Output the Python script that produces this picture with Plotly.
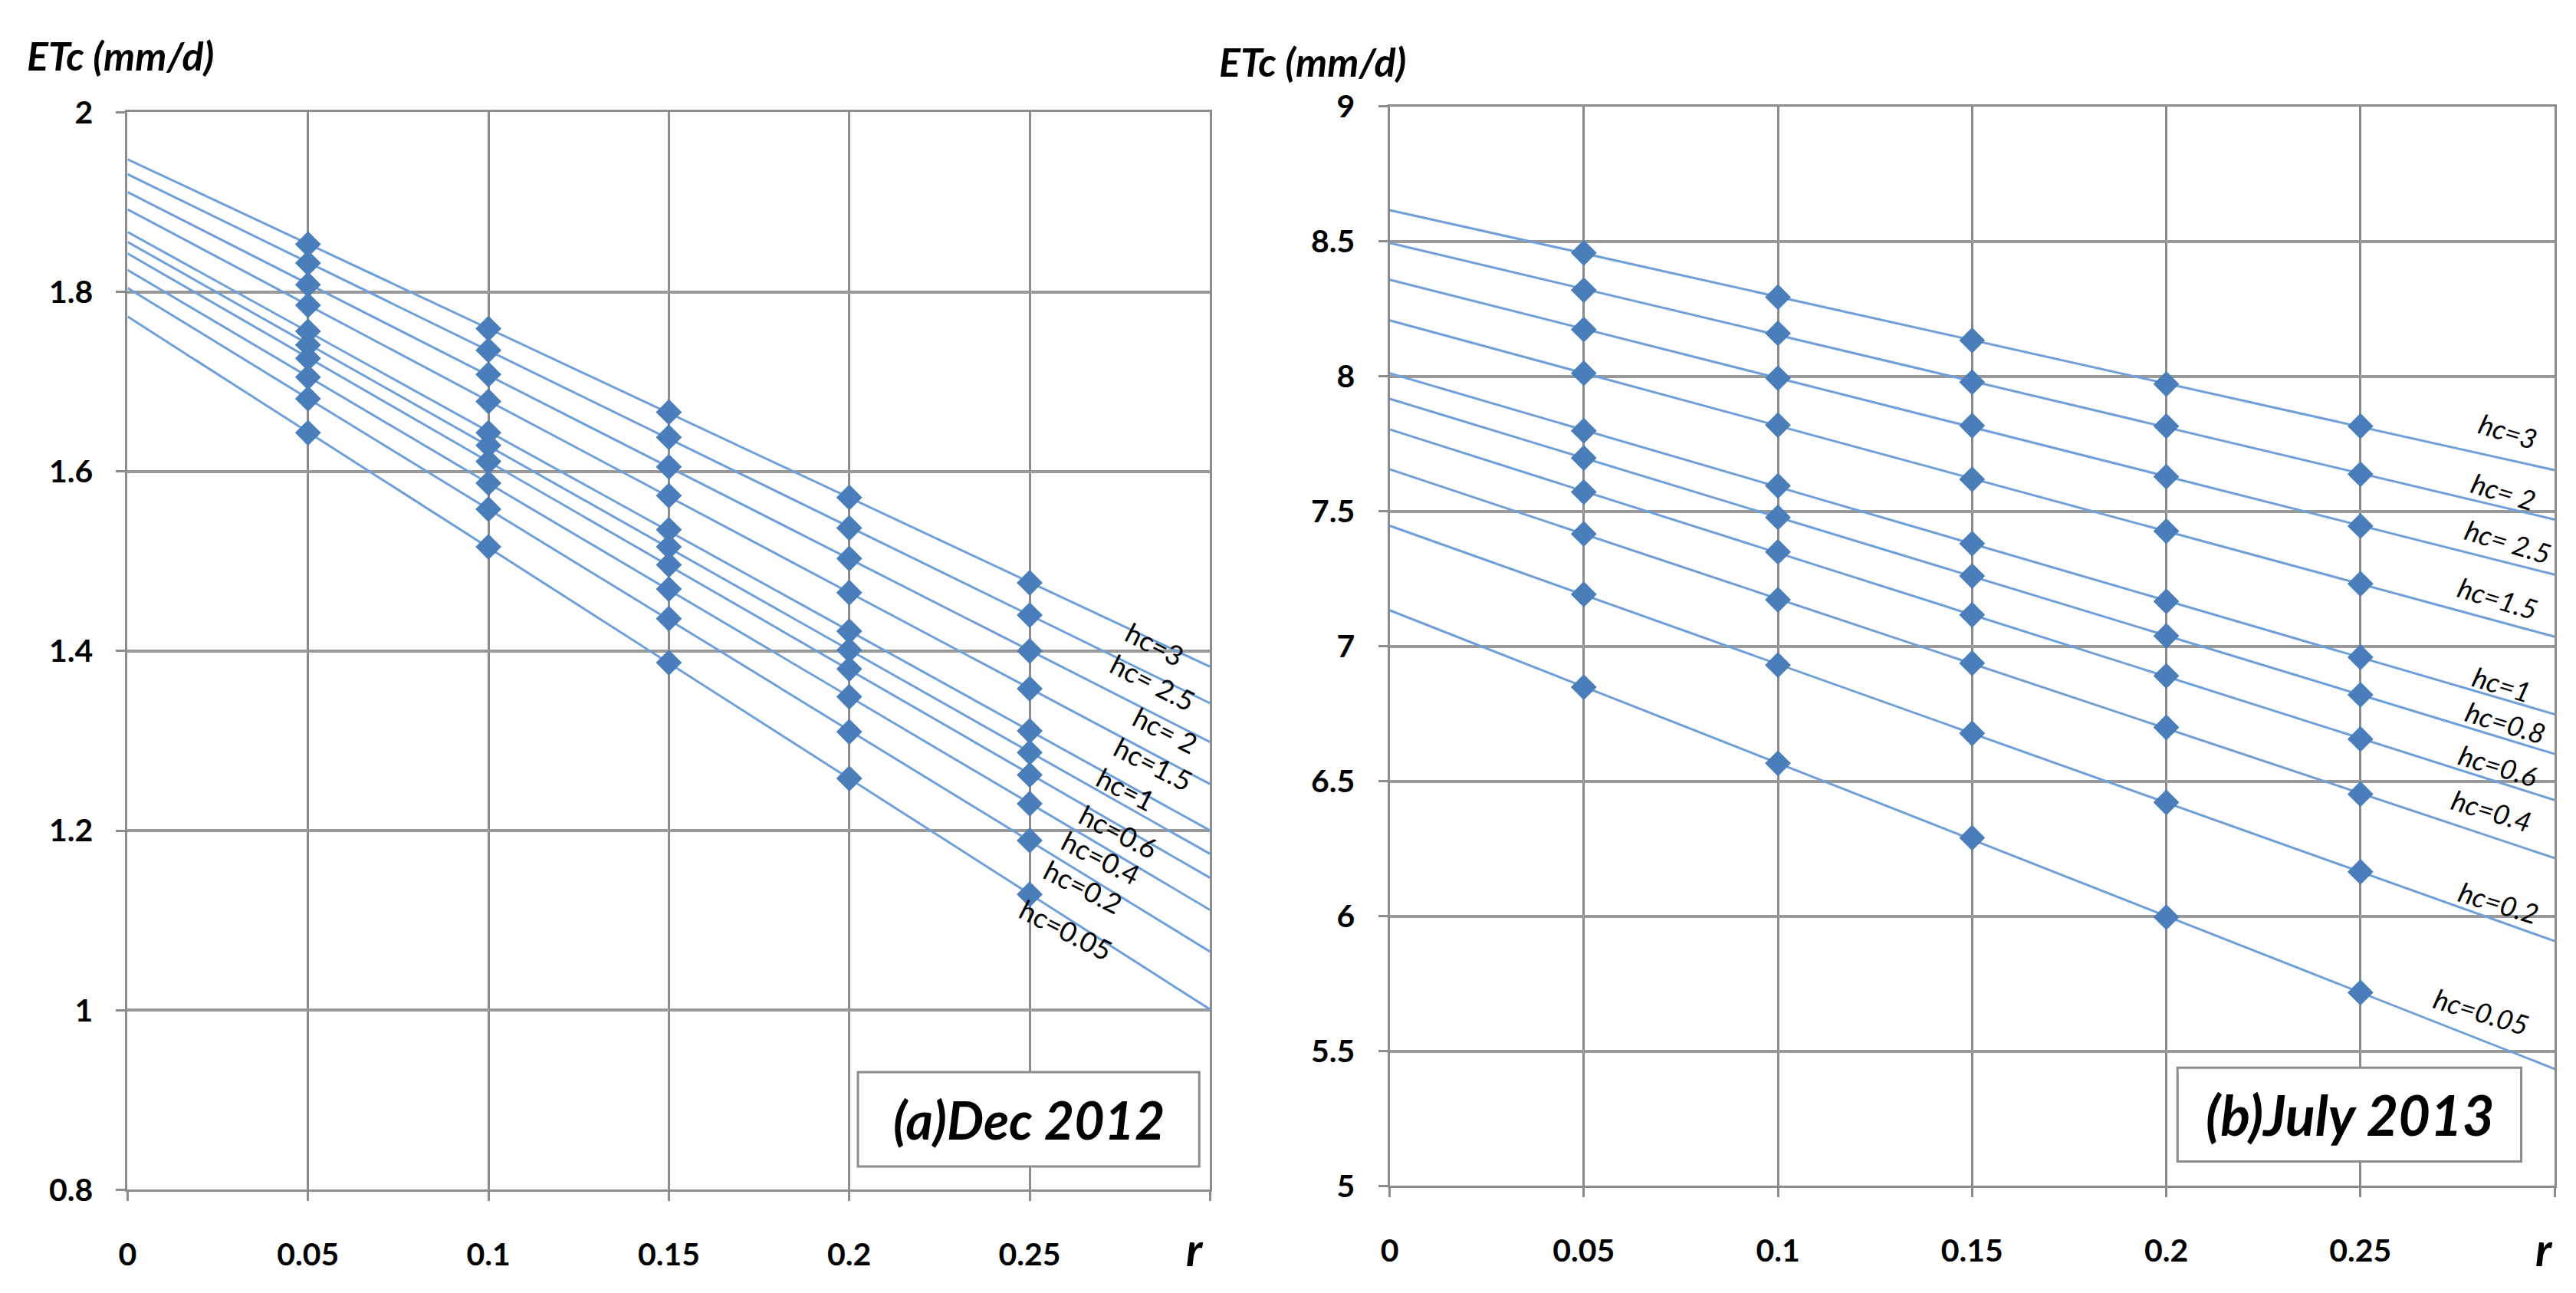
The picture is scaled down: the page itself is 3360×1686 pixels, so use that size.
import numpy as np
import plotly.graph_objects as go

# figure size in px (matches the browser window)
W, H = 3360, 1686

# ---- data ----
r = [0.05, 0.1, 0.15, 0.2, 0.25]
x_ticks = [0, 0.05, 0.1, 0.15, 0.2, 0.25, 0.3]
x_ticktext = ["0", "0.05", "0.1", "0.15", "0.2", "0.25", ""]

# (a) Dec 2012, lines from top to bottom
dec_hc = ["3", "2.5", "2", "1.5", "1", "0.8", "0.6", "0.4", "0.2", "0.05"]
dec_etc = [
    [1.853, 1.759, 1.666, 1.571, 1.476],
    [1.832, 1.735, 1.638, 1.537, 1.440],
    [1.808, 1.708, 1.605, 1.503, 1.400],
    [1.785, 1.678, 1.573, 1.465, 1.358],
    [1.756, 1.643, 1.535, 1.422, 1.311],
    [1.741, 1.629, 1.516, 1.401, 1.287],
    [1.726, 1.611, 1.496, 1.380, 1.262],
    [1.705, 1.587, 1.469, 1.349, 1.230],
    [1.681, 1.558, 1.436, 1.310, 1.189],
    [1.643, 1.516, 1.387, 1.258, 1.129],
]
dec_labels = ["hc=3", "hc= 2.5", "hc= 2", "hc=1.5", "hc=1",
              "hc=0.6", "hc=0.4", "hc=0.2", "hc=0.05"]
dec_yticks = [0.8, 1, 1.2, 1.4, 1.6, 1.8, 2]

# (b) July 2013, lines from top to bottom
jul_hc = ["3", "2", "2.5", "1.5", "1", "0.8", "0.6", "0.4", "0.2", "0.05"]
jul_etc = [
    [8.457, 8.293, 8.133, 7.971, 7.815],
    [8.319, 8.159, 7.978, 7.815, 7.637],
    [8.173, 7.993, 7.817, 7.628, 7.445],
    [8.011, 7.819, 7.618, 7.426, 7.231],
    [7.798, 7.594, 7.380, 7.166, 6.959],
    [7.697, 7.477, 7.260, 7.038, 6.820],
    [7.571, 7.349, 7.116, 6.890, 6.656],
    [7.416, 7.172, 6.937, 6.699, 6.452],
    [7.192, 6.930, 6.677, 6.421, 6.164],
    [6.848, 6.566, 6.290, 5.996, 5.717],
]
jul_labels = ["hc=3", "hc= 2", "hc= 2.5", "hc=1.5", "hc=1",
              "hc=0.8", "hc=0.6", "hc=0.4", "hc=0.2", "hc=0.05"]
jul_yticks = [5, 5.5, 6, 6.5, 7, 7.5, 8, 8.5, 9]

# ---- styles ----
FONT = "Lato"
LINE_COLOR = "#6f9fd8"
MARKER_COLOR = "#4a7ebb"
GRID = "#8c8c8c"


def px(x):
    return x / W


def py(y):
    return 1 - y / H


fig = go.Figure()


def add_panel(etc, hc, xa, ya):
    for vals, h in zip(etc, hc):
        # linear trendline, extended over 0..0.3 like the original chart
        k, b = np.polyfit(r, vals, 1)
        xs = np.array([0, 0.3])
        fig.add_trace(go.Scatter(x=xs, y=k * xs + b, mode="lines",
                                 line=dict(color=LINE_COLOR, width=3),
                                 xaxis=xa, yaxis=ya, hoverinfo="skip",
                                 showlegend=False))
        fig.add_trace(go.Scatter(x=r, y=vals, mode="markers", name="hc=" + h,
                                 marker=dict(symbol="diamond", size=26, color=MARKER_COLOR),
                                 xaxis=xa, yaxis=ya, showlegend=False))


add_panel(dec_etc, dec_hc, "x", "y")
add_panel(jul_etc, jul_hc, "x2", "y2")

tickfont = dict(family=FONT, size=41, color="black", weight="bold")


def xaxis(domain, anchor):
    return dict(domain=domain, anchor=anchor, range=[0, 0.3],
                tickvals=x_ticks, ticktext=x_ticktext, tickfont=tickfont,
                showgrid=True, gridcolor=GRID, gridwidth=3,
                ticks="outside", ticklen=12, tickwidth=3, tickcolor=GRID,
                ticklabelstandoff=34,
                showline=True, mirror=True, linecolor=GRID, linewidth=3,
                zeroline=False, fixedrange=True)


def yaxis(domain, anchor, rng, ticks):
    return dict(domain=domain, anchor=anchor, range=rng, tickvals=ticks,
                tickfont=tickfont, showgrid=True, gridcolor="#999999", gridwidth=4,
                ticks="outside", ticklen=12, tickwidth=3, tickcolor=GRID,
                ticklabelstandoff=22,
                showline=True, mirror=True, linecolor=GRID, linewidth=3,
                zeroline=False, fixedrange=True)


fig.update_layout(
    width=W, height=H,
    margin=dict(l=0, r=0, t=0, b=0),
    paper_bgcolor="white", plot_bgcolor="white",
    xaxis=xaxis([px(155), px(1572)], "y"),
    yaxis=yaxis([py(1571), py(124)], "x", [0.8, 2], dec_yticks),
    xaxis2=xaxis([px(1807), px(3332)], "y2"),
    yaxis2=yaxis([py(1566), py(116)], "x2", [5, 9], jul_yticks),
)

# curve labels
label_font = dict(family=FONT, size=36, color="black")
dec_label_pos = [(0.2848, 1.408), (0.2843, 1.365), (0.2876, 1.312), (0.2843, 1.274),
                 (0.2767, 1.246), (0.2746, 1.199), (0.2697, 1.170), (0.2648, 1.138),
                 (0.2600, 1.090)]
for txt, (x, y) in zip(dec_labels, dec_label_pos):
    fig.add_annotation(x=x, y=y, xref="x", yref="y", text=txt, showarrow=False,
                       textangle=27, font=label_font)

jul_label_pos = [(0.288, 7.798), (0.287, 7.574), (0.288, 7.387), (0.2854, 7.178),
                 (0.2864, 6.860), (0.2874, 6.717), (0.2854, 6.558), (0.2839, 6.392),
                 (0.2857, 6.049), (0.2812, 5.646)]
for txt, (x, y) in zip(jul_labels, jul_label_pos):
    fig.add_annotation(x=x, y=y, xref="x2", yref="y2", text=txt, showarrow=False,
                       textangle=17, font=dict(label_font, style="italic"))

# panel name boxes
box_font = dict(family=FONT, size=68, color="black", weight="bold", style="italic")
fig.add_shape(type="rect", xref="x", yref="y", x0=0.2024, x1=0.2970, y0=0.826, y1=0.931,
              line=dict(color=GRID, width=3), fillcolor="white", layer="above")
fig.add_annotation(x=0.2497, y=0.8785, xref="x", yref="y", text="(a)Dec 2012",
                   showarrow=False, font=box_font)
fig.add_shape(type="rect", xref="x2", yref="y2", x0=0.2029, x1=0.2914, y0=5.091, y1=5.438,
              line=dict(color=GRID, width=3), fillcolor="white", layer="above")
fig.add_annotation(x=0.2472, y=5.265, xref="x2", yref="y2", text="(b)July 2013",
                   showarrow=False, font=dict(box_font, size=72))

# axis titles
title_font = dict(family=FONT, size=52, color="black", weight="bold", style="italic")
fig.add_annotation(x=px(21), y=py(47), xref="paper", yref="paper",
                   xanchor="left", yanchor="middle",
                   text="ETc (mm/d)", showarrow=False, font=title_font)
fig.add_annotation(x=px(1582), y=py(56), xref="paper", yref="paper",
                   xanchor="left", yanchor="middle",
                   text="ETc (mm/d)", showarrow=False, font=title_font)
r_font = dict(family=FONT, size=60, color="black", weight="bold", style="italic")
fig.add_annotation(x=px(1552), y=py(1650), xref="paper", yref="paper",
                   xanchor="center", yanchor="middle",
                   text="r", showarrow=False, font=r_font)
fig.add_annotation(x=px(3318), y=py(1650), xref="paper", yref="paper",
                   xanchor="center", yanchor="middle",
                   text="r", showarrow=False, font=r_font)

fig.write_html("out.html", config={"displayModeBar": False},
               post_script="document.body.style.margin='0';")
